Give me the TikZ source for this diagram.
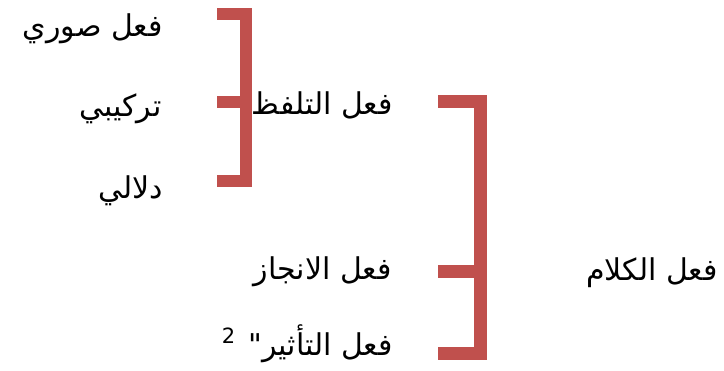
\documentclass[tikz,border=0pt]{standalone}
\usepackage{fontspec}
\newfontfamily\arabicfont[Script=Arabic]{DejaVu Sans}
\TeXXeTstate=1
\definecolor{bracketred}{HTML}{C0504D}

\begin{document}
\begin{tikzpicture}[
    x=1pt, y=-1pt,
    every node/.style = {font=\arabicfont\fontsize{30}{34}\selectfont,
                         inner sep=0pt, anchor=base east},
    brace/.style = {draw=bracketred, line width=12pt},
    bigbrace/.style = {brace, line width=13pt}
  ]
  \useasboundingbox (0,0) rectangle (724,371);

  % nodes
  \node (suwari)   at (163,37)  {\beginR فعل صوري\endR};
  \node (tarkibi)  at (162,117) {\beginR تركيبي\endR};
  \node (dalali)   at (163,199) {\beginR دلالي\endR};

  \node (talaffuz) at (393,115) {\beginR فعل التلفظ\endR};
  \node (injaz)    at (392,280) {\beginR فعل الانجاز\endR};
  \node (taathir)  at (393,356) {\beginR فعل التأثير"\hspace{13pt}{\fontsize{21}{21}\selectfont\raisebox{12pt}{2}}\endR};

  \node (kalam)    at (718,281) {\beginR فعل الكلام\endR};

  % brackets
  \draw[brace] (217,14) -- (246,14) -- (246,181) -- (217,181);
  \draw[brace] (217,102) -- (246,102);

  \draw[bigbrace] (438,101.5) -- (480,101.5) -- (480,353.5) -- (438,353.5);
  \draw[bigbrace] (438,272) -- (480,272);

\end{tikzpicture}
\end{document}
